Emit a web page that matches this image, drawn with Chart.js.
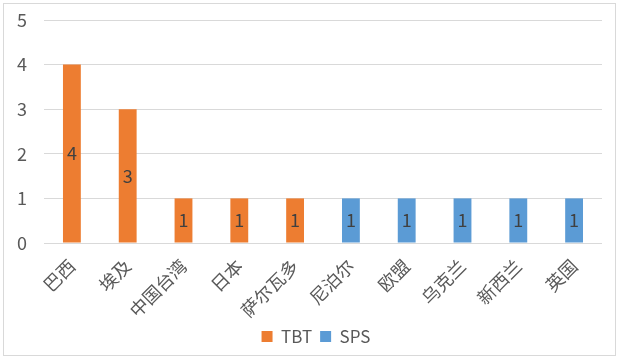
<!DOCTYPE html>
<html><head><meta charset="utf-8">
<script src="https://cdn.jsdelivr.net/npm/chart.js@4/dist/chart.umd.min.js"></script>
<style>
html,body{margin:0;padding:0;background:#fff;}
#frame{position:absolute;left:3px;top:3px;width:611px;height:351px;border:1px solid #d9d9d9;}
#wrap{position:absolute;left:0;top:0;width:618px;height:359px;}
</style></head>
<body>
<div id="frame"></div>
<div id="wrap"><canvas id="c" width="618" height="359"></canvas></div>
<script>
const categories = ['巴西','埃及','中国台湾','日本','萨尔瓦多','尼泊尔','欧盟','乌克兰','新西兰','英国'];
const tbtValues = [4,3,1,1,1,null,null,null,null,null];
const spsValues = [null,null,null,null,null,1,1,1,1,1];
const yTicks = [0,1,2,3,4,5];
const FONT = '"Noto Sans CJK SC", "Noto Sans", sans-serif';

const labelPlugin = {
  id:'barLabels',
  afterLayout(chart){
    if(chart.legend){ chart.legend.left += 15; chart.legend.right += 15; }
  },
  afterDatasetsDraw(chart){
    const ctx = chart.ctx;
    ctx.save();
    ctx.font = '18px ' + FONT;
    ctx.fillStyle = '#404040';
    ctx.textAlign = 'center';
    ctx.textBaseline = 'middle';
    chart.data.datasets.forEach((ds,i)=>{
      const meta = chart.getDatasetMeta(i);
      meta.data.forEach((el,j)=>{
        const v = ds.data[j];
        if(v==null) return;
        const p = el.getProps(['x','y','base'],true);
        ctx.fillText(String(v), p.x, (p.y+p.base)/2);
      });
    });
    ctx.restore();
  }
};

new Chart(document.getElementById('c'),{
  type:'bar',
  data:{labels:categories,datasets:[
    {label:'TBT',data:tbtValues,backgroundColor:'#ED7D31',categoryPercentage:1,barPercentage:0.32},
    {label:'SPS',data:spsValues,backgroundColor:'#5B9BD5',categoryPercentage:1,barPercentage:0.32}
  ]},
  options:{
    responsive:false,animation:false,
    layout:{padding:{left:0,right:16,top:20,bottom:4}},
    plugins:{
      legend:{position:'bottom',labels:{font:{family:FONT,size:17},color:'#595959',boxWidth:11,boxHeight:11,padding:8}},
      tooltip:{enabled:false}
    },
    scales:{
      x:{stacked:true,grid:{display:false},border:{display:false},
        afterFit(ax){ax.height = 77;},
        ticks:{font:{family:FONT,size:18},color:'#595959',maxRotation:45,minRotation:45,autoSkip:false,padding:4}},
      y:{stacked:true,min:0,max:5,
        afterBuildTicks(ax){ax.ticks = yTicks.map(v=>({value:v}));},
        afterFit(ax){ax.width = 44; ax.paddingTop = 0; ax.paddingBottom = 0;},
        grid:{color:'#d9d9d9',drawTicks:false},border:{display:false},
        ticks:{font:{family:FONT,size:18},color:'#595959',padding:17}}
    }
  },
  plugins:[labelPlugin]
});
</script>
</body></html>
